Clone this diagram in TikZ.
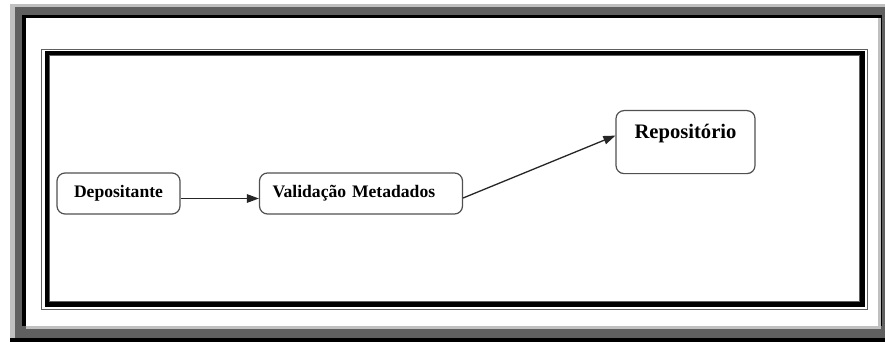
\documentclass[tikz,border=0pt]{standalone}
\usepackage{fontspec}
\setmainfont{Liberation Serif}
\usetikzlibrary{arrows.meta}
\definecolor{lgray}{RGB}{192,192,192}
\definecolor{dgray}{RGB}{96,96,96}
\definecolor{boxgray}{RGB}{80,80,80}
\tikzset{
  box/.style={draw=boxgray, line width=1.2pt, rounded corners=8pt, fill=white,
    minimum height=41pt, inner sep=0pt, font=\bfseries\fontsize{17.6}{20}\selectfont},
  conn/.style={draw=black!85, line width=1.3pt, -{Triangle[length=12pt,width=8.5pt]}}
}
\begin{document}
\begin{tikzpicture}[x=1pt,y=-1pt]
\useasboundingbox (0,0) rectangle (885,342);
% outer bevel frame
\fill[white] (0,0) rectangle (885,342);
\fill[lgray] (10,4) rectangle (885,342);
\fill[dgray] (15,7) rectangle (885,342);
\fill[black] (22,15) rectangle (882,326);
\fill[lgray] (26,18) rectangle (881,329);
\fill[white] (26,18) rectangle (878,326);
\fill[black] (10,338) rectangle (885,342);
% inner double frame
\draw[dgray, line width=0.9pt] (41.5,49.5) rectangle (867.5,309.5);
\draw[black, line width=4.5pt] (47,53) rectangle (862.5,304.5);
\draw[dgray, line width=0.9pt] (49.8,55.8) rectangle (859.5,301.5);
% nodes
\node[box, minimum width=123pt] (dep) at (118.5,193.5) {Depositante};
\node[box, text width=177pt, inner xsep=13pt, align=left] (val) at (361,193.5) {Valida\c{c}\~ao Metadados};
\node[box, anchor=north, text width=119pt, inner xsep=10pt, align=center,
      inner ysep=12pt, text height=16pt, text depth=23pt, minimum height=63pt,
      font=\bfseries\fontsize{20.6}{24}\selectfont] (rep) at (685.5,110) {Reposit\'orio};
% connectors
\draw[conn] ([yshift=-5pt]dep.east) -- ([yshift=-5pt]val.west);
\draw[conn] ([yshift=-4.5pt]val.east) -- ([yshift=6.5pt]rep.west);
\end{tikzpicture}
\end{document}
